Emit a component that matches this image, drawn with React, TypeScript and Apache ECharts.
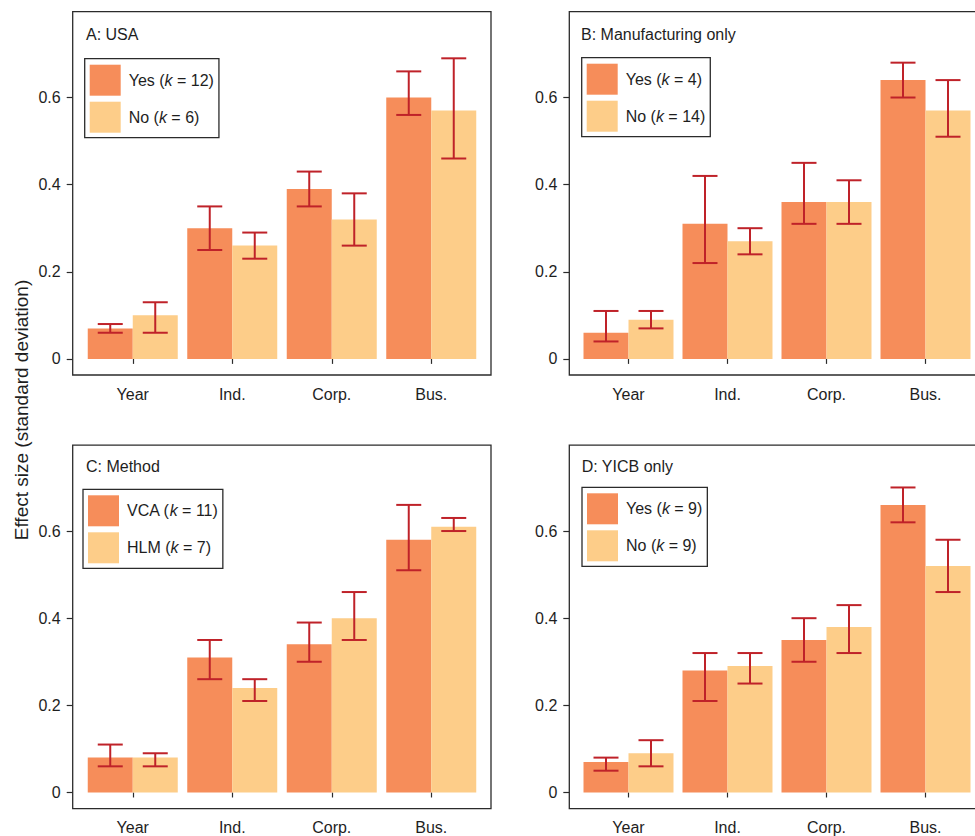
import React, { useEffect, useRef } from "react";
import * as echarts from "echarts";

const categories = ["Year", "Ind.", "Corp.", "Bus."];
const yTicks = [0, 0.2, 0.4, 0.6];

// Panel A: USA
const aYes = [0.07, 0.3, 0.39, 0.6];
const aYesLo = [0.06, 0.25, 0.35, 0.56];
const aYesHi = [0.08, 0.35, 0.43, 0.66];
const aNo = [0.1, 0.26, 0.32, 0.57];
const aNoLo = [0.06, 0.23, 0.26, 0.46];
const aNoHi = [0.13, 0.29, 0.38, 0.69];

// Panel B: Manufacturing only
const bYes = [0.06, 0.31, 0.36, 0.64];
const bYesLo = [0.04, 0.22, 0.31, 0.6];
const bYesHi = [0.11, 0.42, 0.45, 0.68];
const bNo = [0.09, 0.27, 0.36, 0.57];
const bNoLo = [0.07, 0.24, 0.31, 0.51];
const bNoHi = [0.11, 0.3, 0.41, 0.64];

// Panel C: Method
const cVca = [0.08, 0.31, 0.34, 0.58];
const cVcaLo = [0.06, 0.26, 0.3, 0.51];
const cVcaHi = [0.11, 0.35, 0.39, 0.66];
const cHlm = [0.08, 0.24, 0.4, 0.61];
const cHlmLo = [0.06, 0.21, 0.35, 0.6];
const cHlmHi = [0.09, 0.26, 0.46, 0.63];

// Panel D: YICB only
const dYes = [0.07, 0.28, 0.35, 0.66];
const dYesLo = [0.05, 0.21, 0.3, 0.62];
const dYesHi = [0.08, 0.32, 0.4, 0.7];
const dNo = [0.09, 0.29, 0.38, 0.52];
const dNoLo = [0.06, 0.25, 0.32, 0.46];
const dNoHi = [0.12, 0.32, 0.43, 0.58];

const panelTitles = ["A: USA", "B: Manufacturing only", "C: Method", "D: YICB only"];
const legendNames = [
  ["Yes (k = 12)", "No (k = 6)"],
  ["Yes (k = 4)", "No (k = 14)"],
  ["VCA (k = 11)", "HLM (k = 7)"],
  ["Yes (k = 9)", "No (k = 9)"],
];
const yAxisTitle = "Effect size (standard deviation)";

const FONT = "'Liberation Sans', Arial, Helvetica, sans-serif";
const ORANGE = "#F68D5A";
const YELLOW = "#FDCD89";
const ERR = "#BF2229";
const FRAME = "#2b2b2b";
const TEXT = "#1e1e1e";
const BAR_W = 45;
const CAP_W = 25;

type Panel = {
  box: { x: number; y: number; w: number; h: number };
  gridLeft: number;
  gridWidth: number;
  legend: { left: number; top: number };
  title: { x: number; y: number };
  s1: number[]; s1Lo: number[]; s1Hi: number[];
  s2: number[]; s2Lo: number[]; s2Hi: number[];
};

const panels: Panel[] = [
  {
    box: { x: 72.7, y: 11.7, w: 418.3, h: 363.3 },
    gridLeft: 83, gridWidth: 398,
    legend: { left: 84.7, top: 58.7 },
    title: { x: 86, y: 34.3 },
    s1: aYes, s1Lo: aYesLo, s1Hi: aYesHi, s2: aNo, s2Lo: aNoLo, s2Hi: aNoHi,
  },
  {
    box: { x: 569.3, y: 11.7, w: 420, h: 363.3 },
    gridLeft: 579, gridWidth: 398,
    legend: { left: 581.7, top: 57.7 },
    title: { x: 581, y: 34.3 },
    s1: bYes, s1Lo: bYesLo, s1Hi: bYesHi, s2: bNo, s2Lo: bNoLo, s2Hi: bNoHi,
  },
  {
    box: { x: 72.7, y: 445.2, w: 418.3, h: 363.4 },
    gridLeft: 83, gridWidth: 398,
    legend: { left: 83, top: 489.3 },
    title: { x: 86, y: 466 },
    s1: cVca, s1Lo: cVcaLo, s1Hi: cVcaHi, s2: cHlm, s2Lo: cHlmLo, s2Hi: cHlmHi,
  },
  {
    box: { x: 569.3, y: 445.2, w: 420, h: 363.4 },
    gridLeft: 579, gridWidth: 398,
    legend: { left: 582, top: 487.3 },
    title: { x: 581.7, y: 466.7 },
    s1: dYes, s1Lo: dYesLo, s1Hi: dYesHi, s2: dNo, s2Lo: dNoLo, s2Hi: dNoHi,
  },
];

function errorSeries(idx: number, lo: number[], hi: number[], sign: number) {
  return {
    type: "custom",
    xAxisIndex: idx,
    yAxisIndex: idx,
    z: 5,
    silent: true,
    encode: { x: 0, y: [1, 2] },
    data: lo.map((l, i) => [i, l, hi[i]]),
    renderItem: (params: any, api: any) => {
      const i = api.value(0);
      const pLo = api.coord([i, api.value(1)]);
      const pHi = api.coord([i, api.value(2)]);
      const cx = pLo[0] + (sign * BAR_W) / 2;
      const style = { stroke: ERR, lineWidth: 2 };
      return {
        type: "group",
        children: [
          { type: "line", shape: { x1: cx, y1: pLo[1], x2: cx, y2: pHi[1] }, style },
          { type: "line", shape: { x1: cx - CAP_W / 2, y1: pHi[1], x2: cx + CAP_W / 2, y2: pHi[1] }, style },
          { type: "line", shape: { x1: cx - CAP_W / 2, y1: pLo[1], x2: cx + CAP_W / 2, y2: pLo[1] }, style },
        ],
      };
    },
  };
}

export default function App() {
  const ref = useRef<HTMLDivElement>(null);

  useEffect(() => {
    if (!ref.current) return;
    const chart = echarts.init(ref.current, undefined, { renderer: "svg" });

    const grid: any[] = [];
    const xAxis: any[] = [];
    const yAxis: any[] = [];
    const series: any[] = [];
    const legend: any[] = [];
    const graphics: any[] = [];

    panels.forEach((p, idx) => {
      grid.push({
        left: p.gridLeft,
        top: p.box.y,
        width: p.gridWidth,
        height: p.box.h,
        show: false,
      });
      xAxis.push({
        type: "category",
        gridIndex: idx,
        data: categories,
        axisLine: { show: false },
        axisTick: { show: true, alignWithLabel: true, length: 5, lineStyle: { color: FRAME, width: 1.2 } },
        axisLabel: { fontSize: 16, fontFamily: FONT, color: TEXT, margin: 11 },
        splitLine: { show: false },
      });
      yAxis.push({
        type: "value",
        gridIndex: idx,
        min: -0.037,
        max: 0.797,
        offset: p.gridLeft - p.box.x,
        axisLine: { show: false },
        axisTick: { show: true, length: 6, lineStyle: { color: FRAME, width: 1.2 }, customValues: yTicks },
        axisLabel: {
          fontSize: 16,
          fontFamily: FONT,
          color: TEXT,
          margin: 12,
          customValues: yTicks,
          formatter: (v: number) => (v === 0 ? "0" : v.toFixed(1)),
        },
        splitLine: { show: false },
      });
      const [n1, n2] = legendNames[idx];
      series.push({
        type: "bar",
        name: n1,
        xAxisIndex: idx,
        yAxisIndex: idx,
        data: p.s1,
        barWidth: BAR_W,
        barGap: "0%",
        itemStyle: { color: ORANGE },
        silent: true,
      });
      series.push({
        type: "bar",
        name: n2,
        xAxisIndex: idx,
        yAxisIndex: idx,
        data: p.s2,
        barWidth: BAR_W,
        barGap: "0%",
        itemStyle: { color: YELLOW },
        silent: true,
      });
      series.push(errorSeries(idx, p.s1Lo, p.s1Hi, -1));
      series.push(errorSeries(idx, p.s2Lo, p.s2Hi, 1));

      legend.push({
        data: [n1, n2],
        orient: "vertical",
        left: p.legend.left,
        top: p.legend.top,
        icon: "rect",
        itemWidth: 31,
        itemHeight: 31,
        itemGap: 6,
        selectedMode: false,
        borderColor: FRAME,
        borderWidth: 1.3,
        padding: [6, 5, 5, 5],
        formatter: (name: string) => name.replace("(k", "({i|k}"),
        textStyle: {
          fontSize: 16,
          fontFamily: FONT,
          color: TEXT,
          padding: [0, 0, 0, 3],
          rich: { i: { fontStyle: "italic", fontSize: 16, fontFamily: FONT, color: TEXT } },
        },
      });

      graphics.push({
        type: "rect",
        shape: { x: p.box.x, y: p.box.y, width: p.box.w, height: p.box.h },
        style: { fill: "none", stroke: FRAME, lineWidth: 1.3 },
        silent: true,
        z: 10,
      });
      graphics.push({
        type: "text",
        x: p.title.x,
        y: p.title.y,
        style: {
          text: panelTitles[idx],
          fontSize: 16,
          fontFamily: FONT,
          fill: TEXT,
          align: "left",
          verticalAlign: "middle",
        },
        silent: true,
      });
    });

    graphics.push({
      type: "text",
      x: 21.5,
      y: 410,
      rotation: Math.PI / 2,
      style: {
        text: yAxisTitle,
        fontSize: 19,
        fontFamily: FONT,
        fill: TEXT,
        align: "center",
        verticalAlign: "middle",
      },
      silent: true,
    });

    chart.setOption({
      animation: false,
      backgroundColor: "#ffffff",
      grid,
      xAxis,
      yAxis,
      legend,
      series,
      graphic: { elements: graphics },
    });

    return () => chart.dispose();
  }, []);

  return (
    <div
      ref={ref}
      style={{ position: "absolute", left: 0, top: 0, width: 975, height: 836, overflow: "hidden" }}
    />
  );
}
